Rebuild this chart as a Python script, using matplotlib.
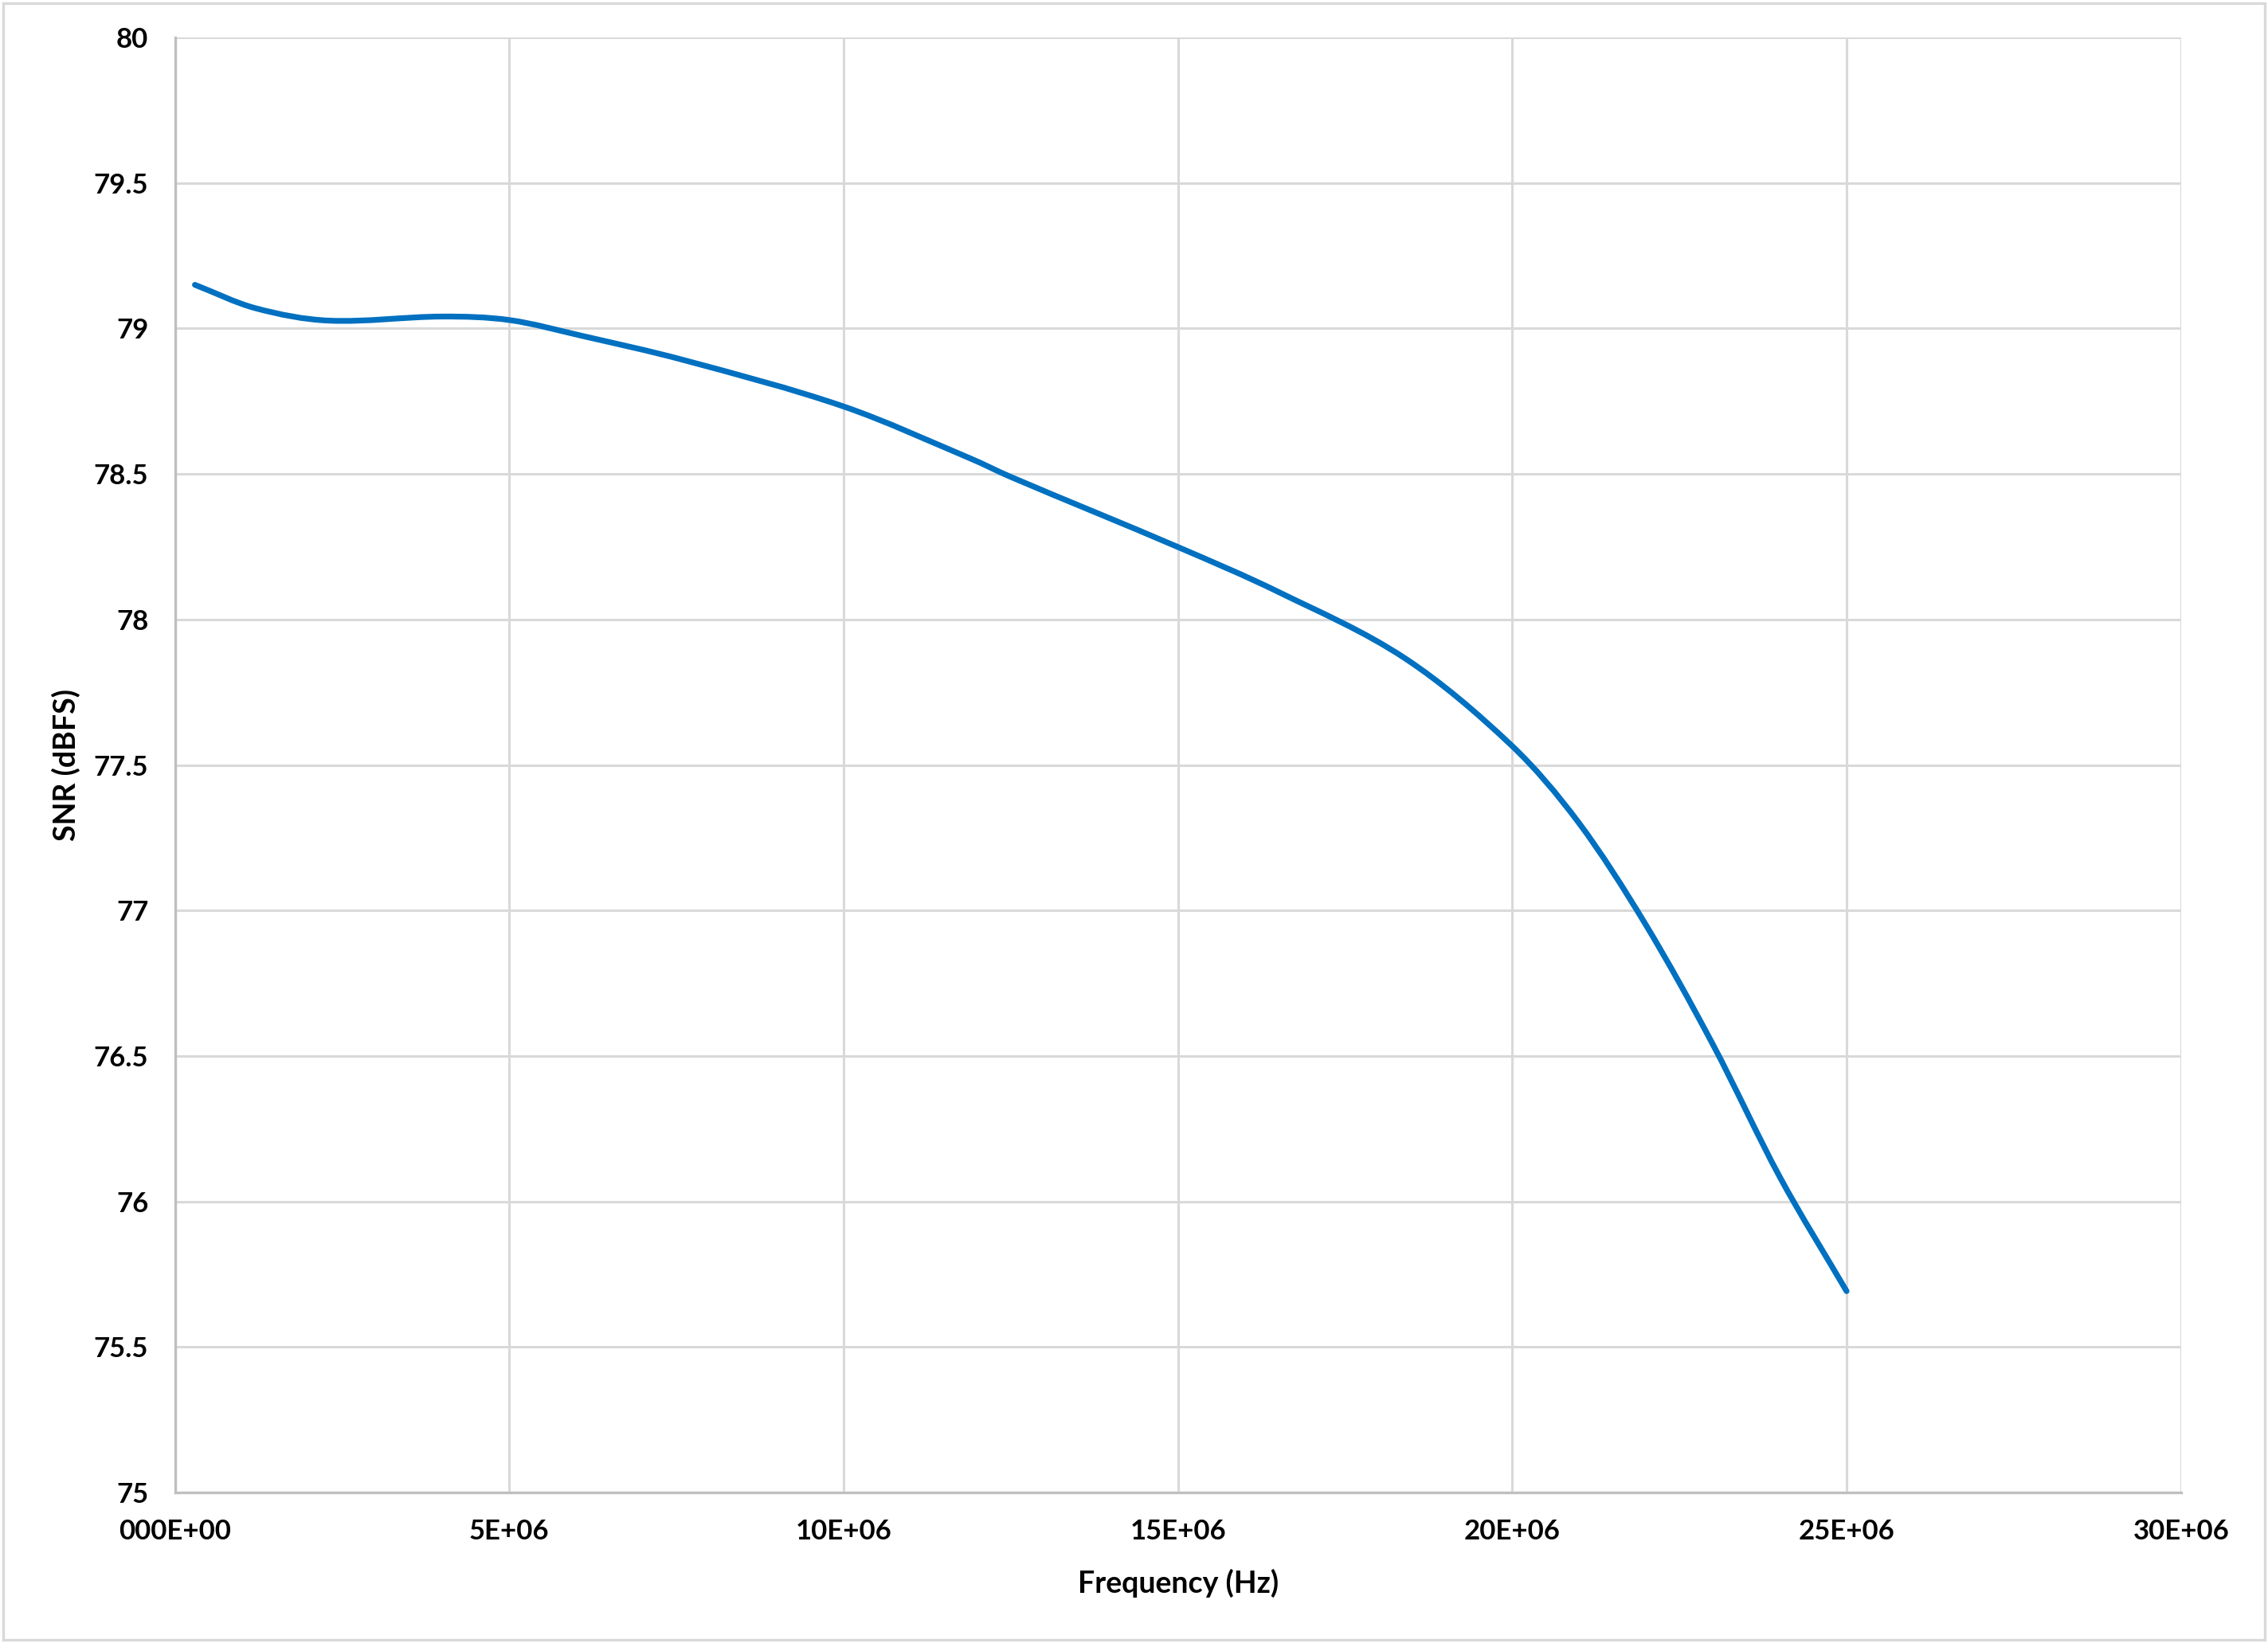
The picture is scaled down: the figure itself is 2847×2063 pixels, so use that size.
import matplotlib.pyplot as plt
from matplotlib.patches import Rectangle, PathPatch
from matplotlib.path import Path

# SNR vs input frequency
freq_mhz = [0.3, 1.2, 2.3, 4.0, 5.0, 6.1, 7.6, 10.0, 11.9, 12.5, 15.0,
            16.5, 18.4, 20.0, 21.0, 22.0, 23.0, 24.0, 25.0]
snr_dbfs = [79.150, 79.070, 79.027, 79.041, 79.029, 78.974, 78.892, 78.732,
            78.553, 78.490, 78.249, 78.095, 77.866, 77.565, 77.300,
            76.950, 76.540, 76.085, 75.692]

x_ticks = [0, 5e6, 10e6, 15e6, 20e6, 25e6, 30e6]
x_tick_labels = ['000E+00', '5E+06', '10E+06', '15E+06', '20E+06', '25E+06', '30E+06']
y_ticks = [75, 75.5, 76, 76.5, 77, 77.5, 78, 78.5, 79, 79.5, 80]
y_tick_labels = ['75', '75.5', '76', '76.5', '77', '77.5', '78', '78.5', '79', '79.5', '80']

plt.rcParams['font.family'] = ['Lato', 'DejaVu Sans']
plt.rcParams['font.weight'] = 'bold'

fig = plt.figure(figsize=(28.47, 20.63), dpi=100)
ax = fig.add_axes([0.0771, 0.0916, 0.8845, 0.8856])

freq_hz = [f * 1e6 for f in freq_mhz]


def smooth_path(xs, ys):
    # smoothed line like Excel's: cubic bezier through every point,
    # tangents taken from the neighbouring points
    n = len(xs)
    slopes = []
    for i in range(n):
        a = max(i - 1, 0)
        b = min(i + 1, n - 1)
        slopes.append((ys[b] - ys[a]) / (xs[b] - xs[a]))
    verts = [(xs[0], ys[0])]
    codes = [Path.MOVETO]
    for i in range(n - 1):
        h = (xs[i + 1] - xs[i]) / 3
        verts += [(xs[i] + h, ys[i] + slopes[i] * h),
                  (xs[i + 1] - h, ys[i + 1] - slopes[i + 1] * h),
                  (xs[i + 1], ys[i + 1])]
        codes += [Path.CURVE4] * 3
    return Path(verts, codes)


ax.add_patch(PathPatch(smooth_path(freq_hz, snr_dbfs), facecolor='none',
                       edgecolor='#0070C0', lw=5.2, capstyle='round',
                       joinstyle='round', zorder=3))

ax.set_xlim(0, 30e6)
ax.set_ylim(75, 80)
ax.set_xticks(x_ticks)
ax.set_xticklabels(x_tick_labels)
ax.set_yticks(y_ticks)
ax.set_yticklabels(y_tick_labels)
ax.tick_params(length=0, labelsize=25, pad=24, labelcolor='black')
for lab in ax.get_xticklabels() + ax.get_yticklabels():
    lab.set_fontweight('bold')

ax.grid(True, color='#d9d9d9', lw=2.2, zorder=0)
ax.set_axisbelow(True)
for side in ['top', 'right']:
    ax.spines[side].set_visible(False)
for side in ['left', 'bottom']:
    ax.spines[side].set_color('#bfbfbf')
    ax.spines[side].set_linewidth(2.4)

ax.set_xlabel('Frequency (Hz)', fontsize=27, fontweight='bold', labelpad=22)
ax.set_ylabel('SNR (dBFS)', fontsize=27, fontweight='bold', labelpad=12)

# light chart-area border
fig.patches.append(Rectangle((0.0015, 0.002), 0.997, 0.996, transform=fig.transFigure,
                             fill=False, edgecolor='#d9d9d9', lw=2.4))

fig.savefig('out.png', dpi=100, facecolor='white')
